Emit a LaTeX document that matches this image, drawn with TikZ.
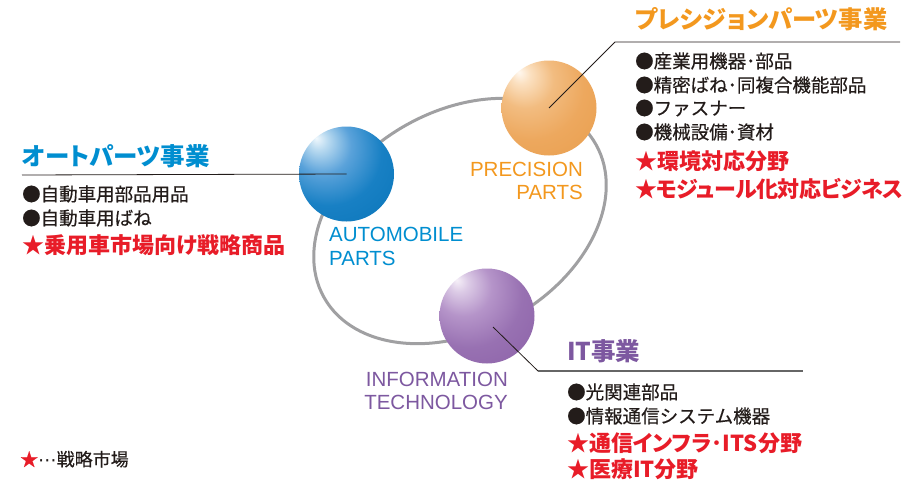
\documentclass[tikz,border=0pt]{standalone}
\usepackage{fontspec}
\newfontfamily\jp{Noto Sans CJK JP}
\newfontfamily\jpm{Noto Sans CJK JP}[FakeBold=0.4]
\newfontfamily\jpp{Noto Sans CJK JP}[RawFeature=+palt]
\newfontfamily\jppt{Noto Sans CJK JP}[RawFeature=+palt, LetterSpace=-2.5]
\newfontfamily\lat{Liberation Sans}
\newfontfamily\dvs{DejaVu Sans}
\definecolor{autoblue}{RGB}{0,142,208}
\definecolor{precorange}{RGB}{243,152,30}
\definecolor{itpurple}{RGB}{125,88,160}
\definecolor{hotred}{RGB}{232,28,40}
\definecolor{inkblack}{RGB}{35,28,26}
\definecolor{ringgray}{RGB}{160,160,162}
\definecolor{bW}{RGB}{240,248,253}
\definecolor{bA}{RGB}{185,218,240}
\definecolor{bB}{RGB}{90,162,218}
\definecolor{bC}{RGB}{24,128,196}
\definecolor{bD}{RGB}{8,116,184}
\definecolor{bE}{RGB}{0,104,172}
\definecolor{oW}{RGB}{255,248,240}
\definecolor{oA}{RGB}{251,224,192}
\definecolor{oB}{RGB}{242,188,128}
\definecolor{oC}{RGB}{237,168,94}
\definecolor{oD}{RGB}{232,157,75}
\definecolor{oE}{RGB}{227,150,63}
\definecolor{pW}{RGB}{246,240,248}
\definecolor{pA}{RGB}{220,203,230}
\definecolor{pB}{RGB}{181,148,201}
\definecolor{pC}{RGB}{152,113,178}
\definecolor{pD}{RGB}{138,95,166}
\definecolor{pE}{RGB}{126,83,153}
\pgfdeclareradialshading{blueball}{\pgfpoint{-16bp}{19bp}}{color(0bp)=(bW); color(5bp)=(bA); color(15bp)=(bB); color(28bp)=(bC); color(48bp)=(bD); color(70bp)=(bE)}
\pgfdeclareradialshading{orangeball}{\pgfpoint{-16bp}{19bp}}{color(0bp)=(oW); color(5bp)=(oA); color(15bp)=(oB); color(28bp)=(oC); color(48bp)=(oD); color(70bp)=(oE)}
\pgfdeclareradialshading{purpleball}{\pgfpoint{-16bp}{19bp}}{color(0bp)=(pW); color(5bp)=(pA); color(15bp)=(pB); color(28bp)=(pC); color(48bp)=(pD); color(70bp)=(pE)}
\tikzset{
  sphere/.style={circle, minimum size=95pt, inner sep=0pt, draw=none},
  headline/.style={anchor=base west, inner sep=0pt, font=\jpp\bfseries\fontsize{24.5}{28}\selectfont},
  itemline/.style={anchor=base west, inner sep=0pt, text=inkblack, font=\jpm\fontsize{18.5}{22}\selectfont},
  hotline/.style={anchor=base west, inner sep=0pt, text=hotred, font=\jpp\bfseries\fontsize{22}{26}\selectfont},
  latlabel/.style={inner sep=0pt, font=\lat\fontsize{20.5}{24}\selectfont},
  leader/.style={draw=inkblack, line width=0.8pt},
  leadergray/.style={draw=black!60, line width=1.1pt}
}
\begin{document}
\begin{tikzpicture}[x=1pt,y=-1pt]
\fill[white] (0,0) rectangle (908,485);
\useasboundingbox (0,0) rectangle (908,485);

% ring
\draw[ringgray, line width=3pt, rotate around={29.4:(460,221)}] (460,221) ellipse [x radius=156pt, y radius=110pt];

% spheres
\node[sphere, shading=blueball] (auto) at (346.5,174) {};
\node[sphere, shading=orangeball] (prec) at (549,108) {};
\node[sphere, shading=purpleball] (it) at (487,316) {};

% leaders
\coordinate (autoL) at (22,175);
\draw[leader] (autoL) -- (auto.center);
\coordinate (precR) at (900,42);
\coordinate (precK) at (615,42);
\draw[leader] (precR) -- (precK) -- (prec.center);
\coordinate (itS) at (493,327);
\coordinate (itK) at (538,371);
\coordinate (itR) at (803,371);
\draw[leader] (itS) -- (itK);
\draw[leadergray] (itK) -- (itR);

% sphere labels
\node[latlabel, text=autoblue, anchor=base west] (autolabA) at (329,241.5) {AUTOMOBILE};
\node[latlabel, text=autoblue, anchor=base west] (autolabB) at (329,265.5) {PARTS};
\node[latlabel, text=precorange, anchor=base east] (preclabA) at (583,176) {PRECISION};
\node[latlabel, text=precorange, anchor=base east] (preclabB) at (583,199.5) {PARTS};
\node[latlabel, text=itpurple, anchor=base east] (itlabA) at (508,386) {INFORMATION};
\node[latlabel, text=itpurple, anchor=base east] (itlabB) at (508,409.5) {TECHNOLOGY};

% automobile group
\node[headline, text=autoblue] (autoT) at (22,165) {オートパーツ事業};
\node[itemline] (autoI1) at (22,201) {●自動車用部品用品};
\node[itemline] (autoI2) at (22,225) {●自動車用ばね};
\node[hotline] (autoR1) at (22,253) {★乗用車市場向け戦略商品};

% precision group
\node[headline, text=precorange, font=\jpp\bfseries\fontsize{24.3}{28}\selectfont] (precT) at (635,28) {プレシジョンパーツ事業};
\node[itemline] (precI1) at (635,68) {●産業用機器･部品};
\node[itemline] (precI2) at (635,92) {●精密ばね･同複合機能部品};
\node[itemline] (precI3) at (635,115) {●ファスナー};
\node[itemline] (precI4) at (635,139) {●機械設備･資材};
\node[hotline] (precR1) at (635,169) {★環境対応分野};
\node[hotline, font=\jppt\bfseries\fontsize{22}{26}\selectfont] (precR2) at (635,197) {★モジュール化対応ビジネス};

% IT group
\node[headline, text=itpurple] (itT) at (567,360) {IT事業};
\node[itemline] (itI1) at (567,399) {●光関連部品};
\node[itemline] (itI2) at (567,423) {●情報通信システム機器};
\node[hotline] (itR1) at (567,451) {★通信インフラ･ITS分野};
\node[hotline] (itR2) at (567,477) {★医療IT分野};

% legend
\node[anchor=base west, inner sep=0pt, font=\jpm\fontsize{18}{22}\selectfont, text=inkblack] (legend) at (20,466) {\textcolor{hotred}{★}{\dvs\fontsize{18.5}{22}\selectfont ⋯}戦略市場};
\end{tikzpicture}
\end{document}
